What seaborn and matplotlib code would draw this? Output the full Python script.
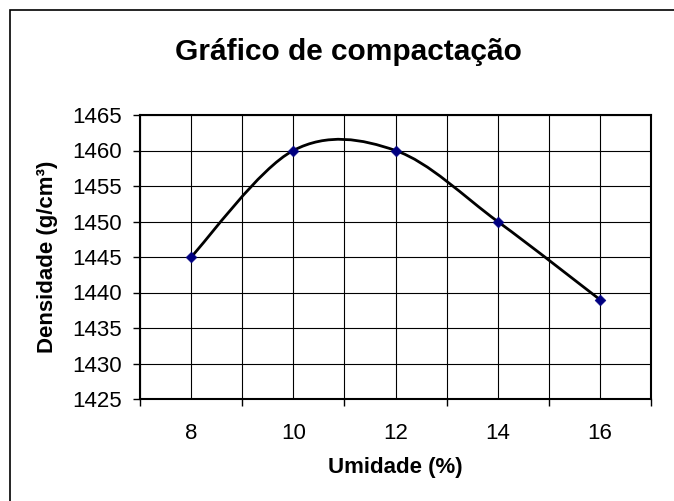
import matplotlib
matplotlib.use("Agg")
import matplotlib.pyplot as plt
import seaborn as sns
import pandas as pd
from matplotlib.path import Path
from matplotlib.patches import PathPatch, Rectangle

# data
umidade = [8, 10, 12, 14, 16]
densidade = [1445, 1460, 1460, 1450, 1439]
x_labels = [8, 10, 12, 14, 16]
y_ticks = [1425, 1430, 1435, 1440, 1445, 1450, 1455, 1460, 1465]


def smooth_path(xs, ys):
    """Excel-like smoothed line: cubic Bezier segments through the points."""
    pts = list(zip(xs, ys))
    n = len(pts)
    verts = [pts[0]]
    codes = [Path.MOVETO]
    for i in range(n - 1):
        p0 = pts[i - 1] if i > 0 else pts[i]
        p1 = pts[i]
        p2 = pts[i + 1]
        p3 = pts[i + 2] if i + 2 < n else pts[i + 1]
        c1 = (p1[0] + (p2[0] - p0[0]) / 6, p1[1] + (p2[1] - p0[1]) / 6)
        c2 = (p2[0] - (p3[0] - p1[0]) / 6, p2[1] - (p3[1] - p1[1]) / 6)
        verts += [c1, c2, p2]
        codes += [Path.CURVE4] * 3
    return Path(verts, codes)


df = pd.DataFrame({"Umidade": umidade, "Densidade": densidade})

sns.set_style("white")
plt.rcParams['font.family'] = ['Liberation Sans', 'DejaVu Sans']
plt.rcParams['text.color'] = 'black'
plt.rcParams['axes.labelcolor'] = 'black'
plt.rcParams['xtick.color'] = 'black'
plt.rcParams['ytick.color'] = 'black'

fig = plt.figure(figsize=(6.74, 5.01), dpi=100)
ax = fig.add_axes([140 / 674, 1 - 399 / 501, 511 / 674, 284 / 501])

# outer chart border (only top and left visible in the picture)
fig.patches.append(Rectangle((10 / 674, -0.1), 1.2, 1 - 10 / 501 + 0.1,
                             transform=fig.transFigure, fill=False,
                             edgecolor='black', linewidth=1.2))

ax.set_xlim(7, 17)
ax.set_ylim(1425, 1465)

# gridlines every unit on x, every 5 on y
for gx in range(7, 18):
    ax.axvline(gx, color='black', linewidth=0.8, zorder=1)
for gy in y_ticks:
    ax.axhline(gy, color='black', linewidth=0.8, zorder=1)

ax.add_patch(PathPatch(smooth_path(umidade, densidade), fill=False,
                       edgecolor='black', linewidth=2, zorder=3))
sns.scatterplot(data=df, x='Umidade', y='Densidade', ax=ax, marker='D',
                color='#000080', s=30, edgecolor='#000080', zorder=4)

# tick marks at odd values, labels at even values
ax.set_xticks(range(7, 18, 2))
ax.set_xticklabels([])
ax.set_xticks(x_labels, minor=True)
ax.set_xticklabels([str(v) for v in x_labels], minor=True, fontsize=16)
ax.tick_params(axis='x', which='major', direction='out', length=5, width=1, bottom=True)
ax.tick_params(axis='x', which='minor', length=0, pad=17)
ax.set_yticks(y_ticks)
ax.set_yticklabels([str(v) for v in y_ticks], fontsize=16)
ax.tick_params(axis='y', direction='out', length=5, width=1, left=True, pad=8)

for s in ax.spines.values():
    s.set_color('black')
    s.set_linewidth(1.5)
    s.set_zorder(5)

ax.set_xlabel('Umidade (%)', fontsize=16, fontweight='bold', labelpad=10)
ax.set_ylabel('Densidade (g/cm³)', fontsize=16, fontweight='bold', labelpad=10)
fig.text(348 / 674, 1 - 52 / 501, 'Gráfico de compactação', fontsize=21.5,
         fontweight='bold', ha='center', va='center')

fig.savefig('out.png', dpi=100)
